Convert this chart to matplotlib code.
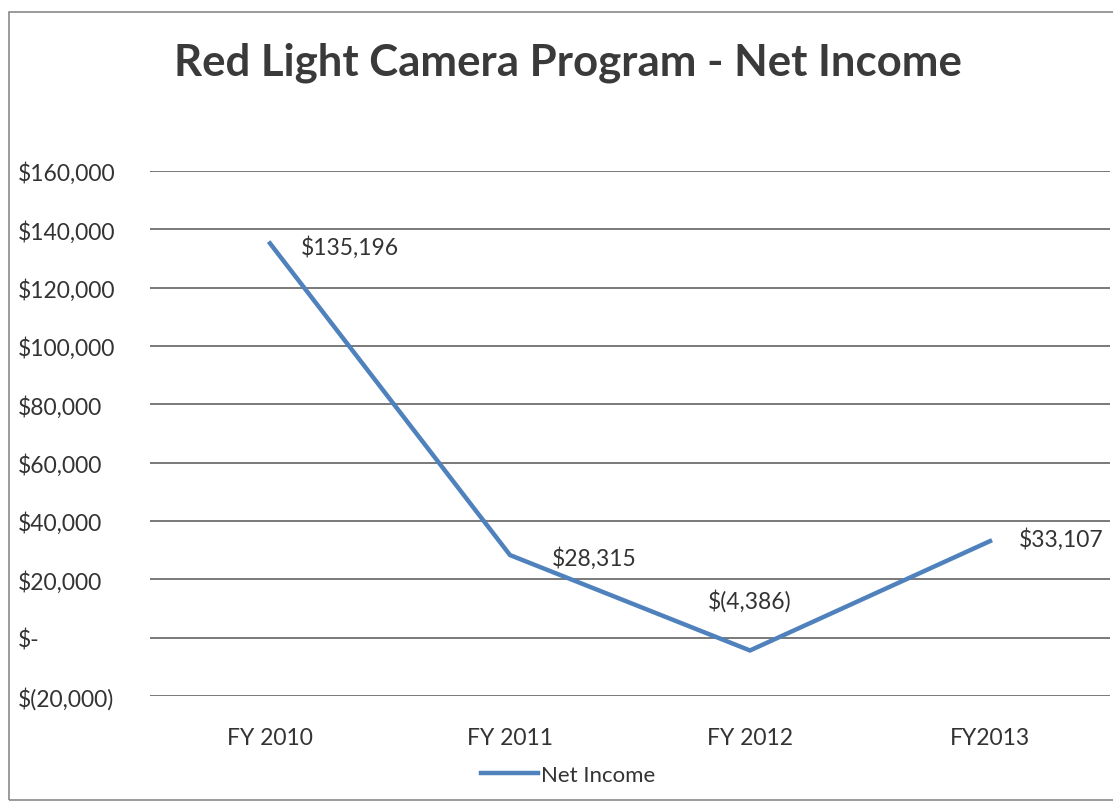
import matplotlib.pyplot as plt
from matplotlib.patches import Rectangle

years = ['FY 2010', 'FY 2011', 'FY 2012', 'FY2013']
net_income = [135196, 28315, -4386, 33107]
point_labels = ['$135,196', '$28,315', '$(4,386)', '$33,107']
yticks = [-20000, 0, 20000, 40000, 60000, 80000, 100000, 120000, 140000, 160000]
ytick_labels = ['$(20,000)', '$-', '$20,000', '$40,000', '$60,000', '$80,000',
                '$100,000', '$120,000', '$140,000', '$160,000']

plt.rcParams['font.family'] = ['Lato', 'DejaVu Sans']

fig = plt.figure(figsize=(11.13, 8.04), dpi=100)
fig.patches.append(Rectangle((0.008, 0.004), 1.2, 0.98, transform=fig.transFigure,
                             fill=False, edgecolor='#8a8a8a', linewidth=1.2))

ax = fig.add_axes([150 / 1113, 1 - 697 / 804, 960 / 1113, 525 / 804])
x = list(range(len(years)))
line, = ax.plot(x, net_income, color='#4F81BD', linewidth=3.2, label='Net Income',
                solid_joinstyle='miter')

ax.set_xlim(-0.5, len(years) - 0.5)
ax.set_ylim(-20000, 160000)
ax.set_yticks(yticks)
ax.set_yticklabels(ytick_labels, ha='left')
ax.set_xticks(x)
ax.set_xticklabels(years)
ax.tick_params(axis='both', length=0, labelsize=16.5, colors='#333333')
ax.tick_params(axis='x', pad=22)
ax.tick_params(axis='y', pad=95)

ax.grid(axis='y', color='#555555', linewidth=1.1)
for s in ax.spines.values():
    s.set_visible(False)

offsets = [(22, -2), (30, -2), (0, 36), (21, 2)]
has = ['left', 'left', 'center', 'left']
for i in range(len(years)):
    ax.annotate(point_labels[i], (x[i], net_income[i]), xytext=offsets[i],
                textcoords='offset points', ha=has[i], va='center',
                fontsize=16.5, color='#333333')

fig.text(0.51, 0.922, 'Red Light Camera Program - Net Income', ha='center', va='center',
         fontsize=31.5, fontweight='bold', color='#3a3a3a')

fig.legend(handles=[line], loc='center', bbox_to_anchor=(0.51, 0.035), frameon=False,
           fontsize=16, handlelength=2.6, handletextpad=0.1, labelcolor='#333333')

fig.savefig('out.png', dpi=100)
